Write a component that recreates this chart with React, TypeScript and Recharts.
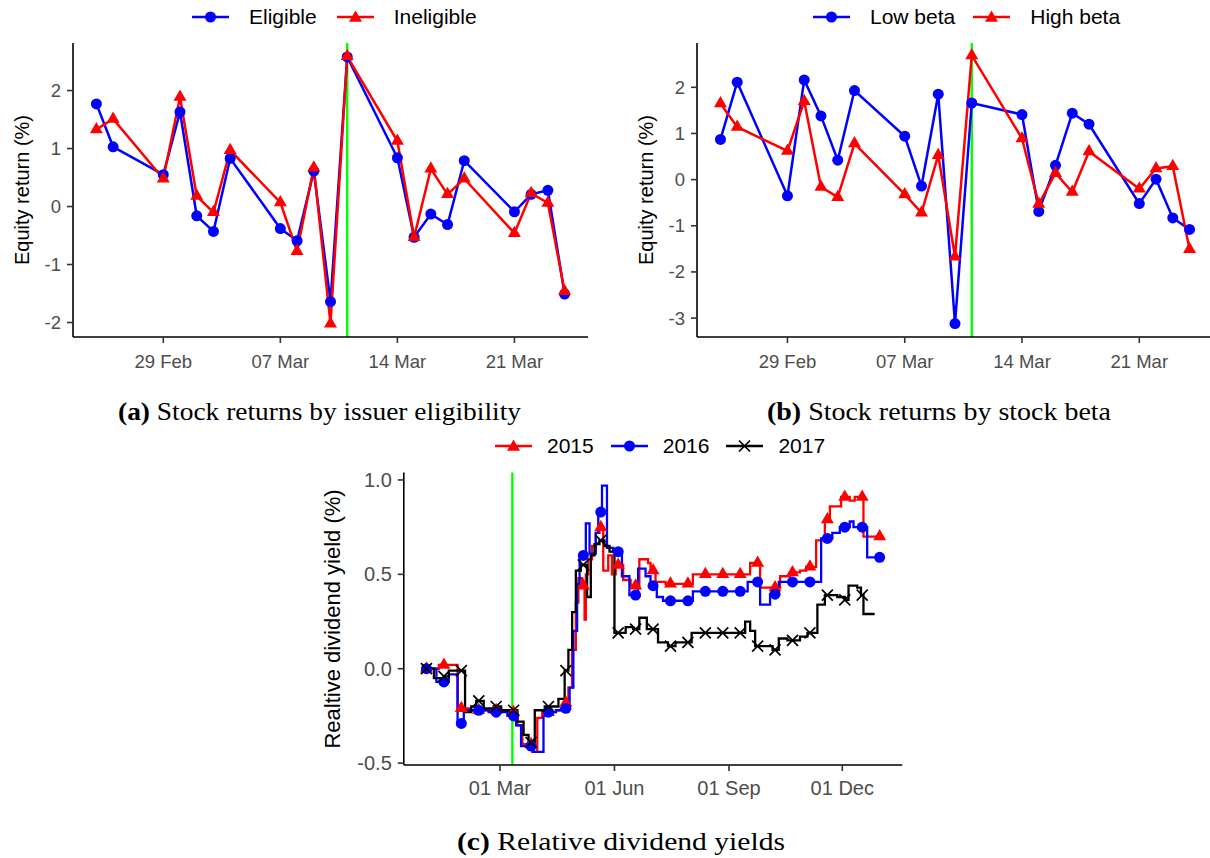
import { ComposedChart, Line, XAxis, YAxis, ReferenceLine } from "recharts";

// panels (a) and (b): daily equity returns around the announcement
const tradingDays = [
  "2016-02-25", "2016-02-26", "2016-02-29", "2016-03-01", "2016-03-02", "2016-03-03", "2016-03-04",
  "2016-03-07", "2016-03-08", "2016-03-09", "2016-03-10", "2016-03-11", "2016-03-14", "2016-03-15",
  "2016-03-16", "2016-03-17", "2016-03-18", "2016-03-21", "2016-03-22", "2016-03-23", "2016-03-24",
];
const eligible = [1.77, 1.03, 0.55, 1.63, -0.16, -0.43, 0.83, -0.38, -0.59, 0.61, -1.64, 2.58, 0.84, -0.53, -0.13, -0.31, 0.79, -0.09, 0.21, 0.28, -1.51];
const ineligible = [1.33, 1.51, 0.48, 1.89, 0.18, -0.1, 0.97, 0.07, -0.77, 0.67, -2.02, 2.59, 1.13, -0.53, 0.65, 0.21, 0.48, -0.46, 0.23, 0.06, -1.46];
const lowBeta = [0.87, 2.11, -0.35, 2.16, 1.38, 0.42, 1.93, 0.94, -0.14, 1.85, -3.12, 1.66, 1.41, -0.69, 0.31, 1.44, 1.2, -0.52, 0.01, -0.83, -1.08];
const highBeta = [1.65, 1.14, 0.62, 1.7, -0.16, -0.38, 0.78, -0.32, -0.72, 0.53, -1.67, 2.69, 0.89, -0.53, 0.14, -0.27, 0.61, -0.2, 0.24, 0.29, -1.51];
const returnTickDates = ["2016-02-29", "2016-03-07", "2016-03-14", "2016-03-21"];
const returnTickLabels = ["29 Feb", "07 Mar", "14 Mar", "21 Mar"];
const eventDate = "2016-03-11";

// panel (c): relative dividend yields, day of year -> value (step changes)
const yieldTickDates = ["2015-03-01", "2015-06-01", "2015-09-01", "2015-12-01"];
const yieldTickLabels = ["01 Mar", "01 Jun", "01 Sep", "01 Dec"];
const yieldEventDate = "2015-03-11";

const steps2015: [number, number][] = [
  [0, 0.0], [10, 0.02], [25, -0.21], [35, -0.22], [66, -0.23], [73, -0.3], [77, -0.4], [85, -0.44],
  [89, -0.26], [93, -0.23], [104, -0.22], [110, -0.18], [114, -0.1], [117, 0.1], [120, 0.35], [122, 0.48],
  [125, 0.44], [127, 0.26], [128, 0.5], [130, 0.58], [133, 0.65], [136, 0.72], [139, 0.75], [142, 0.52],
  [146, 0.6], [149, 0.5], [152, 0.55], [158, 0.47], [164, 0.44], [171, 0.58], [178, 0.56], [180, 0.52],
  [184, 0.46], [192, 0.45], [214, 0.5], [260, 0.56], [268, 0.43], [284, 0.49], [292, 0.51], [300, 0.52],
  [305, 0.54], [313, 0.68], [320, 0.79], [324, 0.86], [333, 0.91], [340, 0.89], [344, 0.91], [351, 0.7],
  [365, 0.7],
];
const steps2016: [number, number][] = [
  [0, 0.0], [8, -0.07], [18, -0.03], [25, -0.29], [30, -0.22], [50, -0.23], [65, -0.25], [72, -0.3],
  [76, -0.41], [86, -0.44], [94, -0.25], [96, -0.23], [104, -0.22], [108, -0.21], [115, -0.1], [118, 0.2],
  [121, 0.45], [123, 0.6], [128, 0.77], [131, 0.61], [136, 0.72], [138, 0.83], [141, 0.97], [145, 0.64],
  [150, 0.62], [157, 0.49], [163, 0.39], [170, 0.53], [176, 0.49], [180, 0.44], [185, 0.38], [190, 0.36],
  [214, 0.41], [258, 0.46], [268, 0.34], [276, 0.395], [283, 0.46], [317, 0.69], [326, 0.72], [332, 0.75],
  [340, 0.78], [343, 0.75], [354, 0.59], [365, 0.59],
];
const steps2017: [number, number][] = [
  [0, 0.0], [6, -0.05], [14, -0.04], [18, -0.01], [31, -0.23], [36, -0.2], [40, -0.17], [46, -0.21],
  [54, -0.2], [60, -0.22], [73, -0.28], [78, -0.35], [82, -0.39], [87, -0.22], [95, -0.2], [106, -0.16],
  [111, -0.01], [114, 0.1], [117, 0.3], [120, 0.52], [124, 0.55], [129, 0.38], [132, 0.6], [135, 0.66],
  [139, 0.68], [143, 0.65], [147, 0.62], [151, 0.19], [160, 0.22], [166, 0.21], [171, 0.27], [177, 0.21],
  [186, 0.14], [194, 0.12], [200, 0.14], [213, 0.19], [256, 0.25], [260, 0.2], [264, 0.12], [278, 0.1],
  [283, 0.16], [290, 0.15], [300, 0.17], [306, 0.19], [314, 0.34], [320, 0.39], [330, 0.38], [336, 0.365],
  [339, 0.44], [346, 0.43], [349, 0.39], [351, 0.29], [360, 0.29],
];
const markerDays = [0, 14, 28, 42, 56, 70, 84, 98, 112, 126, 140, 154, 168, 182, 196, 210, 224, 238, 252, 266, 280, 294, 308, 322, 336, 350, 364];
const marks2015 = [0.0, 0.02, -0.21, -0.22, -0.22, -0.23, -0.4, -0.23, -0.18, 0.44, 0.75, 0.55, 0.44, 0.52, 0.45, 0.45, 0.5, 0.5, 0.5, 0.56, 0.43, 0.51, 0.54, 0.79, 0.91, 0.91, 0.7];
const marks2016 = [0.0, -0.07, -0.29, -0.22, -0.23, -0.25, -0.41, -0.23, -0.21, 0.6, 0.83, 0.62, 0.39, 0.44, 0.36, 0.36, 0.41, 0.41, 0.41, 0.46, 0.395, 0.46, 0.46, 0.69, 0.75, 0.75, 0.59];
const marks2017 = [0.0, -0.04, -0.01, -0.17, -0.2, -0.22, -0.39, -0.2, -0.01, 0.55, 0.68, 0.19, 0.21, 0.21, 0.12, 0.14, 0.19, 0.19, 0.19, 0.12, 0.1, 0.15, 0.19, 0.39, 0.365, 0.39];

const BLUE = "#0000ff";
const RED = "#ff0000";
const BLACK = "#000000";
const GREEN = "#00ff00";
const SANS = "'Liberation Sans', Arial, sans-serif";
const SERIF = "'Liberation Serif', 'Times New Roman', serif";

const DAY = 86400000;
const dayFrom = (s: string, origin: string) => (Date.parse(s) - Date.parse(origin)) / DAY;
const ORIGIN = "2016-02-29";
const doy = (s: string) => dayFrom(s, s.slice(0, 4) + "-01-01");

const returnRows = tradingDays.map((t, i) => ({
  d: dayFrom(t, ORIGIN),
  eligible: eligible[i],
  ineligible: ineligible[i],
  lowBeta: lowBeta[i],
  highBeta: highBeta[i],
}));
const returnTicks = returnTickDates.map((t) => dayFrom(t, ORIGIN));
const yieldTicks = yieldTickDates.map(doy);

const toRows = (s: [number, number][]) => s.map(([d, v]) => ({ d, v }));
const toMarks = (vals: number[]) => vals.map((v, i) => ({ d: markerDays[i], v }));

function Circle({ cx, cy, fill }: any) {
  return <circle cx={cx} cy={cy} r={5.5} fill={fill} />;
}
function Triangle({ cx, cy, fill }: any) {
  const r = 7.5;
  const h = r * 0.866;
  return <polygon points={`${cx},${cy - r} ${cx + h},${cy + r / 2} ${cx - h},${cy + r / 2}`} fill={fill} />;
}
function Cross({ cx, cy }: any) {
  const s = 5.5;
  return (
    <path
      d={`M${cx - s},${cy - s}L${cx + s},${cy + s}M${cx - s},${cy + s}L${cx + s},${cy - s}`}
      stroke={BLACK}
      strokeWidth={1.7}
      fill="none"
    />
  );
}

const makeDot = (Shape: any, fill: string) => (p: any) =>
  p.cx == null || p.cy == null ? <g key={p.index} /> : <Shape key={p.index} cx={p.cx} cy={p.cy} fill={fill} />;

const axisStyle = (fontSize: number) => ({
  axisLine: { stroke: "#000", strokeWidth: 1.6 },
  tickLine: { stroke: "#333", strokeWidth: 1.6 },
  tickSize: 6,
  tick: { fill: "#4d4d4d", fontSize, fontFamily: SANS },
});

function LegendKey({ color, shape }: { color: string; shape: string }) {
  return (
    <svg width={37} height={20} style={{ display: "block" }}>
      <line x1={0} y1={10} x2={37} y2={10} stroke={color} strokeWidth={2.4} />
      {shape === "circle" && <Circle cx={18.5} cy={10} fill={color} />}
      {shape === "triangle" && <Triangle cx={18.5} cy={11} fill={color} />}
      {shape === "cross" && <Cross cx={18.5} cy={10} />}
    </svg>
  );
}

function Legend({ left, top, items, gap, after }: any) {
  return (
    <div style={{ position: "absolute", left, top, display: "flex", alignItems: "center", fontFamily: SANS, fontSize: 21, color: "#000" }}>
      {items.map((it: any, i: number) => (
        <div key={it.label} style={{ display: "flex", alignItems: "center", marginLeft: i === 0 ? 0 : after }}>
          <LegendKey color={it.color} shape={it.shape} />
          <span style={{ marginLeft: gap, lineHeight: "24px", whiteSpace: "nowrap" }}>{it.label}</span>
        </div>
      ))}
    </div>
  );
}

function AxisTitle({ x, y, text, size }: any) {
  return (
    <div
      style={{
        position: "absolute",
        left: x,
        top: y,
        transform: "translate(-50%, -50%) rotate(-90deg)",
        fontFamily: SANS,
        fontSize: size,
        whiteSpace: "nowrap",
        color: "#000",
      }}
    >
      {text}
    </div>
  );
}

function Caption({ x1, x2, baseline, tag, text }: any) {
  return (
    <svg style={{ position: "absolute", left: 0, top: 0, overflow: "visible" }} width={1} height={1}>
      <text
        x={x1}
        y={baseline}
        textLength={x2 - x1}
        lengthAdjust="spacingAndGlyphs"
        fontFamily={SERIF}
        fontSize={25}
        fill="#000"
      >
        <tspan fontWeight="bold">{tag}</tspan> {text}
      </text>
    </svg>
  );
}

function ReturnsPanel({ left, first, second, yDomain, yTicks, rightMargin }: any) {
  return (
    <div style={{ position: "absolute", left, top: 0 }}>
      <ComposedChart width={600} height={380} data={returnRows} margin={{ top: 43, right: rightMargin, bottom: 13, left: 0 }}>
        <XAxis
          type="number"
          dataKey="d"
          domain={[-5.4, 25.4]}
          ticks={returnTicks}
          allowDataOverflow
          height={30}
          tickMargin={12}
          tickFormatter={(v: number) => returnTickLabels[returnTicks.indexOf(v)]}
          {...axisStyle(18.5)}
        />
        <YAxis type="number" domain={yDomain} ticks={yTicks} allowDataOverflow width={73} tickMargin={6} {...axisStyle(18.5)} />
        <ReferenceLine x={dayFrom(eventDate, ORIGIN)} stroke={GREEN} strokeWidth={2.4} />
        <Line dataKey={first} stroke={BLUE} strokeWidth={2.5} dot={false} isAnimationActive={false} />
        <Line dataKey={second} stroke={RED} strokeWidth={2.5} dot={false} isAnimationActive={false} />
        <Line dataKey={first} stroke="none" dot={makeDot(Circle, BLUE)} activeDot={false} isAnimationActive={false} />
        <Line dataKey={second} stroke="none" dot={makeDot(Triangle, RED)} activeDot={false} isAnimationActive={false} />
      </ComposedChart>
    </div>
  );
}

function YieldPanel() {
  return (
    <div style={{ position: "absolute", left: 330, top: 430 }}>
      <ComposedChart width={582} height={372} margin={{ top: 42.4, right: 9.7, bottom: 7, left: 0 }}>
        <XAxis
          type="number"
          dataKey="d"
          domain={[-18.2, 382.2]}
          ticks={yieldTicks}
          allowDataOverflow
          height={30}
          tickMargin={10}
          tickFormatter={(v: number) => yieldTickLabels[yieldTicks.indexOf(v)]}
          {...axisStyle(20)}
        />
        <YAxis
          type="number"
          domain={[-0.51, 1.04]}
          ticks={[-0.5, 0, 0.5, 1]}
          allowDataOverflow
          width={73.8}
          tickMargin={6}
          tickFormatter={(v: number) => v.toFixed(1)}
          {...axisStyle(20)}
        />
        <ReferenceLine x={doy(yieldEventDate)} stroke={GREEN} strokeWidth={2.4} />
        <Line data={toRows(steps2015)} dataKey="v" type="stepAfter" stroke={RED} strokeWidth={2.3} dot={false} isAnimationActive={false} />
        <Line data={toRows(steps2016)} dataKey="v" type="stepAfter" stroke={BLUE} strokeWidth={2.3} dot={false} isAnimationActive={false} />
        <Line data={toRows(steps2017)} dataKey="v" type="stepAfter" stroke={BLACK} strokeWidth={2.3} dot={false} isAnimationActive={false} />
        <Line data={toMarks(marks2015)} dataKey="v" stroke="none" dot={makeDot(Triangle, RED)} activeDot={false} isAnimationActive={false} />
        <Line data={toMarks(marks2016)} dataKey="v" stroke="none" dot={makeDot(Circle, BLUE)} activeDot={false} isAnimationActive={false} />
        <Line data={toMarks(marks2017)} dataKey="v" stroke="none" dot={makeDot(Cross, BLACK)} activeDot={false} isAnimationActive={false} />
      </ComposedChart>
    </div>
  );
}

export default function App() {
  return (
    <div style={{ position: "absolute", left: 0, top: 0, width: 1210, height: 858, overflow: "hidden", background: "#fff" }}>
      <Legend
        left={192}
        top={5}
        gap={20}
        after={20}
        items={[
          { label: "Eligible", color: BLUE, shape: "circle" },
          { label: "Ineligible", color: RED, shape: "triangle" },
        ]}
      />
      <Legend
        left={813}
        top={5}
        gap={20}
        after={18}
        items={[
          { label: "Low beta", color: BLUE, shape: "circle" },
          { label: "High beta", color: RED, shape: "triangle" },
        ]}
      />
      <Legend
        left={495}
        top={434}
        gap={15}
        after={17}
        items={[
          { label: "2015", color: RED, shape: "triangle" },
          { label: "2016", color: BLUE, shape: "circle" },
          { label: "2017", color: BLACK, shape: "cross" },
        ]}
      />

      <ReturnsPanel left={0} first="eligible" second="ineligible" yDomain={[-2.25, 2.82]} yTicks={[-2, -1, 0, 1, 2]} rightMargin={12} />
      <ReturnsPanel left={624} first="lowBeta" second="highBeta" yDomain={[-3.41, 2.96]} yTicks={[-3, -2, -1, 0, 1, 2]} rightMargin={11} />
      <YieldPanel />

      <AxisTitle x={22} y={190} text="Equity return (%)" size={20} />
      <AxisTitle x={646} y={190} text="Equity return (%)" size={20} />
      <AxisTitle x={333} y={619} text="Realtive dividend yield (%)" size={22} />

      <Caption x1={118} x2={521} baseline={420} tag="(a)" text="Stock returns by issuer eligibility" />
      <Caption x1={767} x2={1111} baseline={420} tag="(b)" text="Stock returns by stock beta" />
      <Caption x1={457} x2={785} baseline={850} tag="(c)" text="Relative dividend yields" />
    </div>
  );
}
